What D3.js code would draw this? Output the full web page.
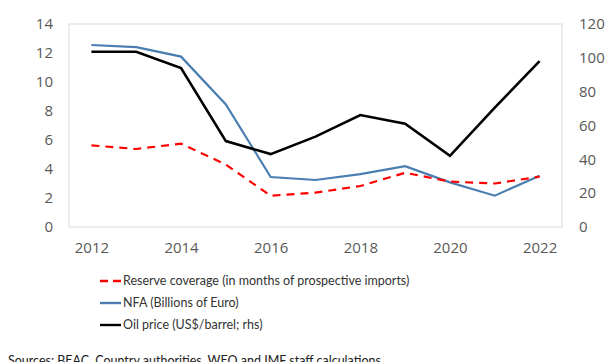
<!DOCTYPE html>
<html>
<head>
<meta charset="utf-8">
<script src="https://cdn.jsdelivr.net/npm/d3@7"></script>
<style>
  html, body { margin: 0; padding: 0; background: #fff; }
  svg { display: block; font-family: "Open Sans", sans-serif; }
</style>
</head>
<body>
<svg id="chart" width="606" height="362"></svg>
<script>
// Years on the horizontal axis
const years = [2012, 2013, 2014, 2015, 2016, 2017, 2018, 2019, 2020, 2021, 2022];
const yearTicks = [2012, 2014, 2016, 2018, 2020, 2022];

// Left axis series
const reserveCoverage = [5.63, 5.38, 5.75, 4.3, 2.16, 2.37, 2.83, 3.74, 3.13, 3.0, 3.47];
const nfa = [12.55, 12.4, 11.75, 8.45, 3.45, 3.24, 3.65, 4.19, 3.08, 2.16, 3.54];

// Right axis series
const oilPrice = [103.6, 103.6, 94.0, 50.8, 43.1, 53.4, 66.2, 61.1, 42.1, 70.5, 98.1];

const leftTicks = [0, 2, 4, 6, 8, 10, 12, 14];
const rightTicks = [0, 20, 40, 60, 80, 100, 120];

const legendItems = [
  { label: "Reserve coverage (in months of prospective imports)", color: "#ff0000", dash: "8,5" },
  { label: "NFA (Billions of Euro)", color: "#4a7eb0", dash: null },
  { label: "Oil price (US$/barrel; rhs)", color: "#000000", dash: null }
];
const sourceNote = "Sources: BEAC, Country authorities, WEO and IMF staff calculations.";

const svg = d3.select("#chart");
const plot = { left: 69, right: 562, top: 24, bottom: 227 };

const x = d3.scalePoint().domain(years).range([plot.left, plot.right]).padding(0.5);
const yL = d3.scaleLinear().domain([0, 14]).range([plot.bottom, plot.top]);
const yR = d3.scaleLinear().domain([0, 120]).range([plot.bottom, plot.top]);

// Plot frame
svg.append("rect")
  .attr("x", plot.left).attr("y", plot.top)
  .attr("width", plot.right - plot.left).attr("height", plot.bottom - plot.top)
  .attr("fill", "none").attr("stroke", "#d9d9d9").attr("stroke-width", 1);

const tickColor = "#595959";

// Left axis
const leftAxis = svg.append("g")
  .attr("transform", `translate(${plot.left},0)`)
  .call(d3.axisLeft(yL).tickValues(leftTicks).tickSize(0).tickPadding(16));
leftAxis.select(".domain").remove();
leftAxis.selectAll("text").attr("fill", tickColor).style("font-size", "15px")
  .style("font-family", "'Open Sans', sans-serif");

// Right axis
const rightAxis = svg.append("g")
  .attr("transform", `translate(${plot.right},0)`)
  .call(d3.axisRight(yR).tickValues(rightTicks).tickSize(0).tickPadding(17));
rightAxis.select(".domain").remove();
rightAxis.selectAll("text").attr("fill", tickColor).style("font-size", "15px")
  .style("font-family", "'Open Sans', sans-serif");

// Bottom axis
const bottomAxis = svg.append("g")
  .attr("transform", `translate(0,${plot.bottom})`)
  .call(d3.axisBottom(x).tickValues(yearTicks).tickSize(0).tickPadding(15));
bottomAxis.select(".domain").remove();
bottomAxis.selectAll("text").attr("fill", tickColor).style("font-size", "15px")
  .style("font-family", "'Open Sans', sans-serif");

// Lines
const lineL = d3.line().x((d, i) => x(years[i])).y(d => yL(d));
const lineR = d3.line().x((d, i) => x(years[i])).y(d => yR(d));

svg.append("path").datum(nfa)
  .attr("d", lineL).attr("fill", "none")
  .attr("stroke", "#4a7eb0").attr("stroke-width", 2.2);

svg.append("path").datum(reserveCoverage)
  .attr("d", lineL).attr("fill", "none")
  .attr("stroke", "#ff0000").attr("stroke-width", 2.2)
  .attr("stroke-dasharray", "8,6");

svg.append("path").datum(oilPrice)
  .attr("d", lineR).attr("fill", "none")
  .attr("stroke", "#000").attr("stroke-width", 2.6);

// Legend
const legend = svg.append("g");
const legendY = d3.scalePoint().domain(d3.range(legendItems.length)).range([281, 325]);
legendItems.forEach((item, i) => {
  const g = legend.append("g").attr("transform", `translate(0,${legendY(i)})`);
  g.append("line")
    .attr("x1", 100).attr("x2", 121).attr("y1", 0).attr("y2", 0)
    .attr("stroke", item.color).attr("stroke-width", 2.4)
    .attr("stroke-dasharray", item.dash);
  g.append("text")
    .attr("x", 123).attr("y", 0).attr("dy", "0.35em")
    .attr("fill", "#333").style("font-size", "12.5px")
    .style("font-family", "Lato, sans-serif")
    .text(item.label);
});

// Source note
svg.append("text")
  .attr("x", 8).attr("y", 365)
  .attr("fill", "#222").style("font-size", "12.5px")
  .style("font-family", "Lato, sans-serif")
  .text(sourceNote);
</script>
</body>
</html>
